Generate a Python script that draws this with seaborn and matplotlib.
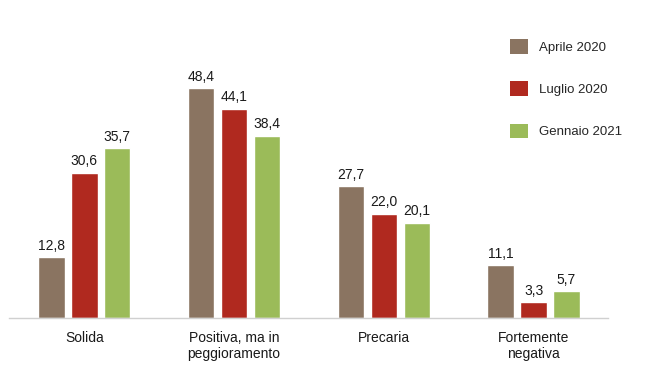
import pandas as pd
import matplotlib.pyplot as plt
import seaborn as sns
from matplotlib.patches import Patch

categories = ["Solida", "Positiva, ma in\npeggioramento", "Precaria", "Fortemente\nnegativa"]
series = ["Aprile 2020", "Luglio 2020", "Gennaio 2021"]
aprile = [12.8, 48.4, 27.7, 11.1]
luglio = [30.6, 44.1, 22.0, 3.3]
gennaio = [35.7, 38.4, 20.1, 5.7]
colors = ["#8A7461", "#B0291F", "#9BBB59"]

df = pd.DataFrame({
    "Categoria": categories * 3,
    "Periodo": [s for s in series for _ in categories],
    "Valore": aprile + luglio + gennaio,
})

sns.set_style("white")
plt.rcParams["font.family"] = ["Liberation Sans", "DejaVu Sans"]

fig = plt.figure(figsize=(6.45, 3.9), dpi=100)
ax = fig.add_axes([0.0147, 0.1846, 0.9287, 0.7308])

sns.barplot(data=df, x="Categoria", y="Valore", hue="Periodo", hue_order=series,
            palette=colors, width=0.66, gap=0.2, saturation=1, legend=False, ax=ax)

for cont in ax.containers:
    ax.bar_label(cont, labels=[f"{v:.1f}".replace(".", ",") for v in cont.datavalues],
                 padding=3, fontsize=10, color="#1a1a1a")

ax.set_ylim(0, 60)
ax.set_xlim(-0.5, 3.5)
ax.set_xlabel("")
ax.set_ylabel("")
ax.set_yticks([])
ax.tick_params(axis="x", length=0, labelsize=10, colors="#1a1a1a", pad=9)
for lbl in ax.get_xticklabels():
    lbl.set_linespacing(1.25)
for side in ["top", "right", "left"]:
    ax.spines[side].set_visible(False)
ax.spines["bottom"].set_color("#d0d0d0")
ax.spines["bottom"].set_linewidth(1)

handles = [Patch(facecolor=c, edgecolor="none") for c in colors]
fig.legend(handles, series, loc="upper left", bbox_to_anchor=(0.773, 0.93),
           frameon=False, fontsize=9.5, handlelength=1.3, handleheight=1.3,
           labelspacing=2.1, handletextpad=0.9)

fig.savefig("out.png", dpi=100)
